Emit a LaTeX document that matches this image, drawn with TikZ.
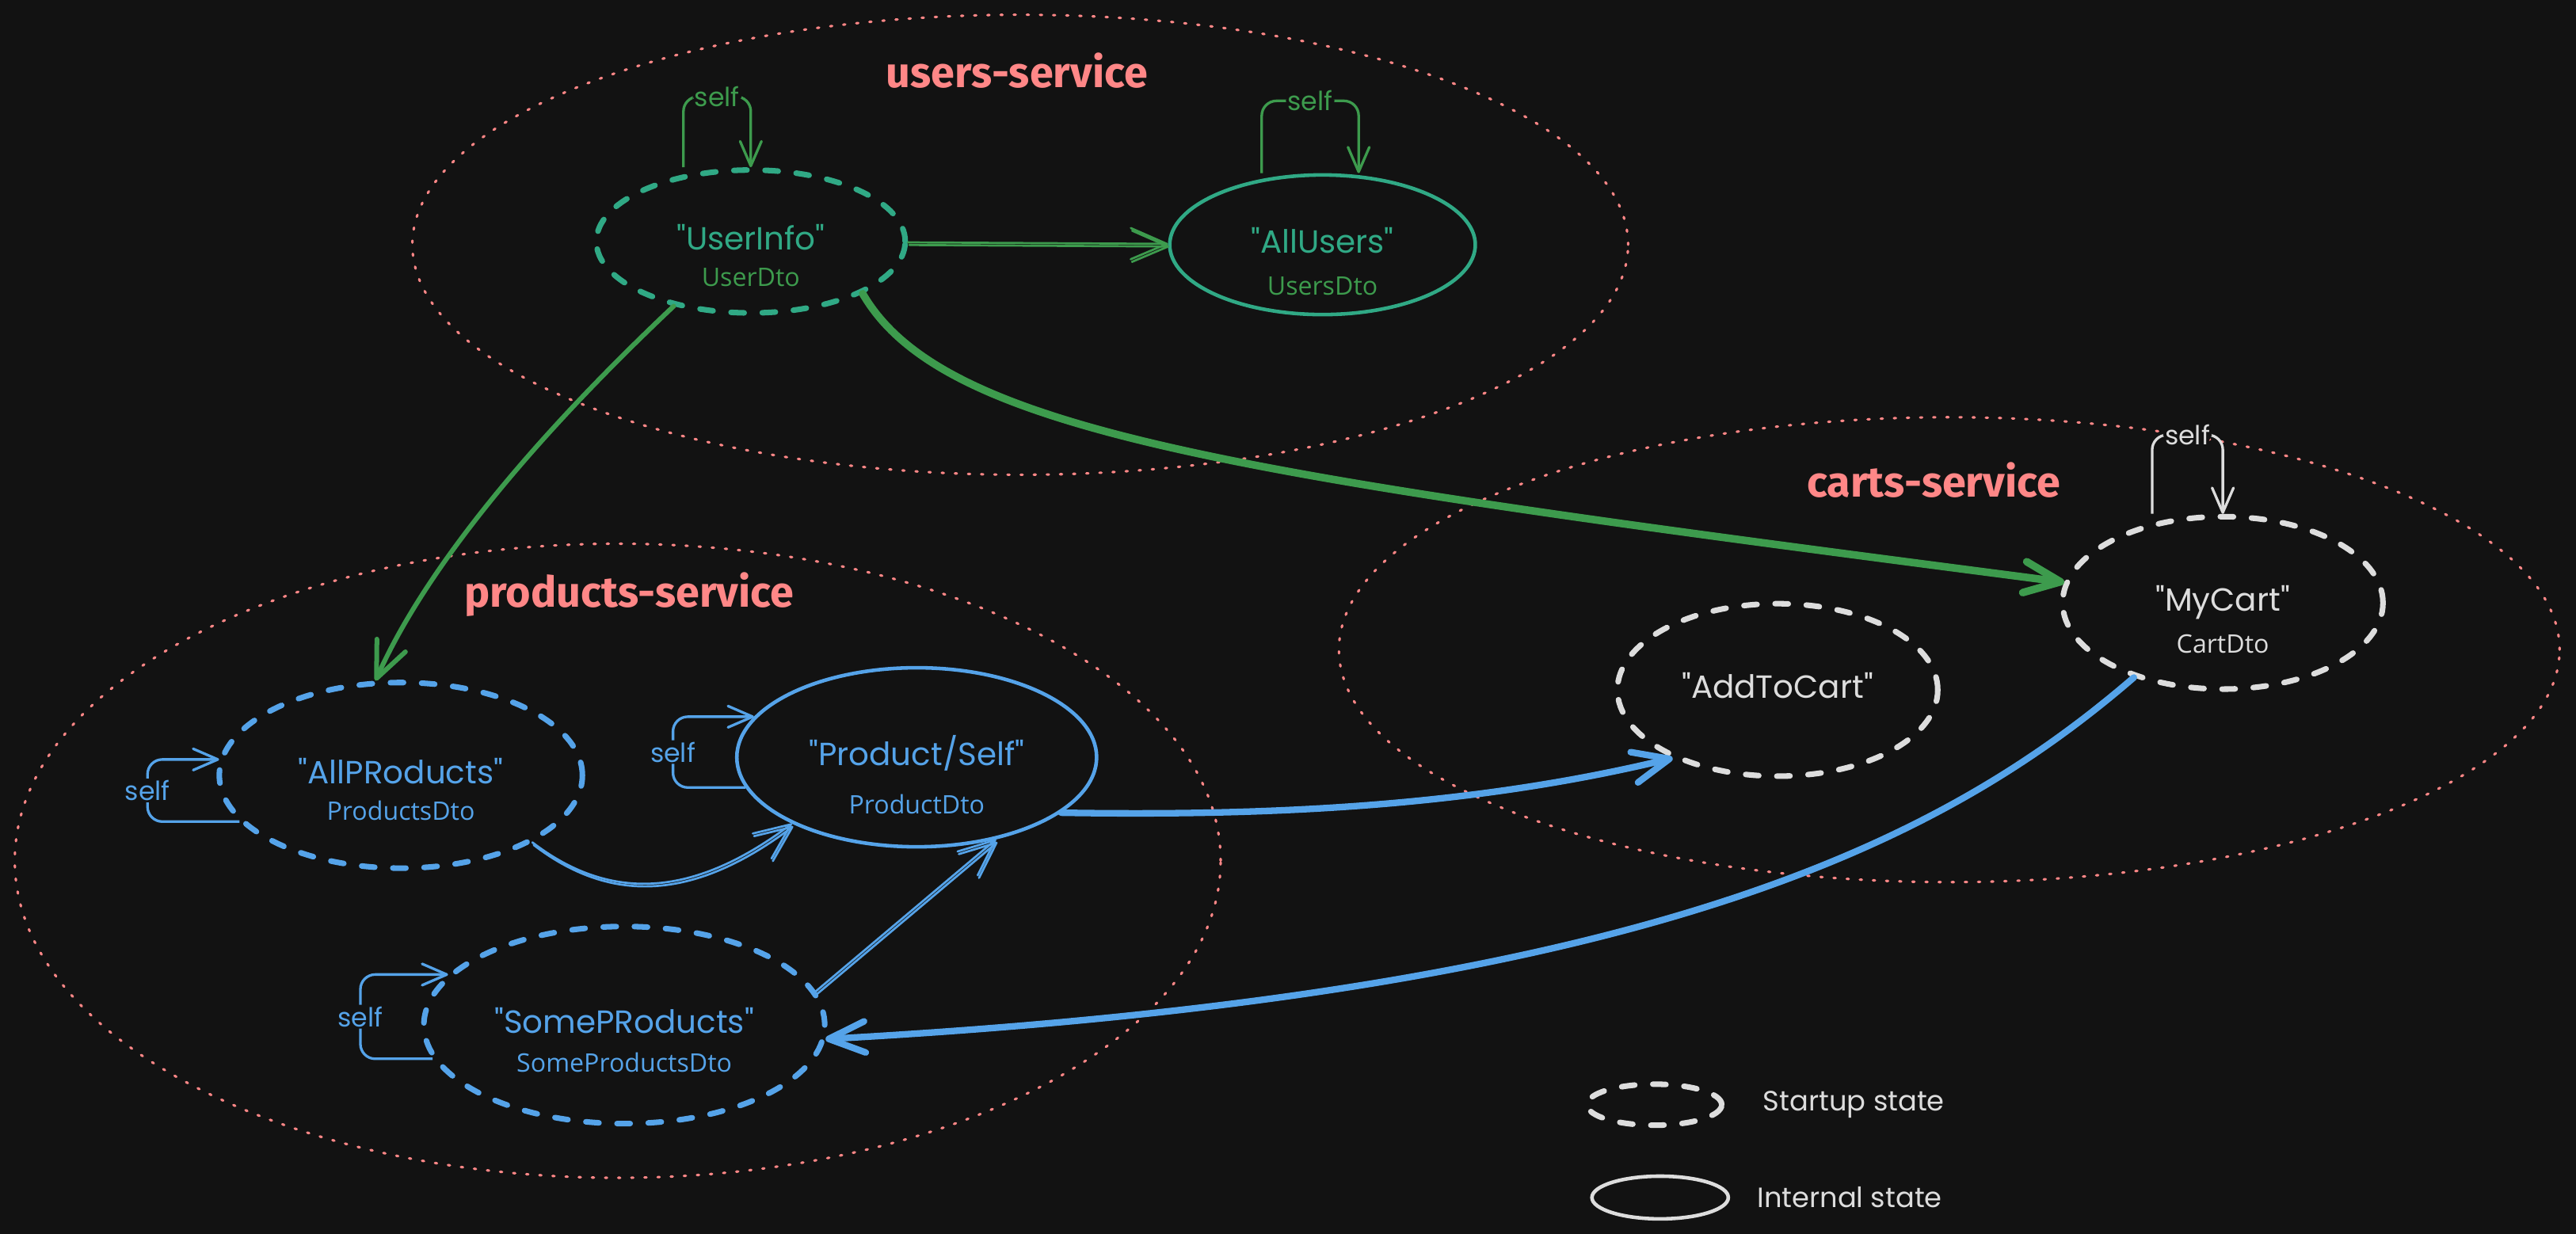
\documentclass[tikz,border=0pt]{standalone}
\usepackage{fontspec}
\setmainfont{Poppins}[Ligatures=TeXOff]
\newfontfamily\dtofont{Open Sans}
\newfontfamily\grpfont{Fira Sans}
\usetikzlibrary{shapes.geometric,arrows.meta,positioning}
\definecolor{bgcol}{HTML}{121212}
\definecolor{grpred}{HTML}{FF8787}
\definecolor{usrteal}{HTML}{30A985}
\definecolor{usrgreen}{HTML}{3D9B4D}
\definecolor{prodblue}{HTML}{55A3E9}
\definecolor{cartgray}{HTML}{DDDDDD}
\begin{document}
\begin{tikzpicture}[x=1pt,y=1pt,
	state/.style={ellipse, draw, inner sep=0pt, line width=2.2pt},
	startup/.style={state, line width=3.4pt, line cap=round, dash pattern=on 8pt off 11pt},
	title/.style={font=\fontsize{19.5}{19.5}\selectfont, inner sep=0pt, text height=14pt, text depth=4pt},
	sub/.style={font=\dtofont\fontsize{15.5}{15.5}\selectfont, inner sep=0pt, text height=11pt, text depth=3pt},
	grp/.style={draw=grpred, line width=1.5pt, line cap=round, dash pattern=on 1.2pt off 6.8pt},
	grplabel/.style={text=grpred, font=\grpfont\bfseries\fontsize{26}{26}\selectfont},
	flow/.style={-{Straight Barb[length=22pt,width=19pt,round]}, line cap=round, line join=round},
	thinflow/.style={flow, line width=1.3pt, postaction={draw, transform canvas={shift={(0.8pt,-1.6pt)}}}},
	selfloop/.style={-{Straight Barb[length=15pt,width=13pt,round]}, line width=1.6pt, rounded corners=9pt},
	selflabel/.style={fill=bgcol, inner sep=1pt, font=\fontsize{16}{16}\selectfont}]
	\useasboundingbox (0,0) rectangle (1568,-751.2);
	\fill[bgcol] (0,0) rectangle (1568,-751.2);

	\draw[grp] (621,-149) ellipse [x radius=370, y radius=140];
	\draw[grp] (376,-524) ellipse [x radius=367, y radius=193];
	\draw[grp] (1186.5,-395.5) ellipse [x radius=371.5, y radius=141.5];
	\node[grplabel] (userslbl) at (619,-43) {users-service};
	\node[grplabel] (productslbl) at (383,-362) {products-service};
	\node[grplabel] (cartslbl) at (1177,-292) {carts-service};

	\node[startup, draw=usrteal, minimum width=188pt, minimum height=87pt] (userinfo) at (457,-147) {};
	\node[state, draw=usrteal, minimum width=186pt, minimum height=85pt] (allusers) at (805,-149) {};
	\node[startup, draw=cartgray, minimum width=195pt, minimum height=105pt] (mycart) at (1353,-367) {};
	\node[startup, draw=cartgray, minimum width=195pt, minimum height=105pt] (addtocart) at (1082,-420) {};
	\node[startup, draw=prodblue, minimum width=221pt, minimum height=113pt] (allproducts) at (244,-472) {};
	\node[state, draw=prodblue, minimum width=219pt, minimum height=109pt] (product) at (558,-461) {};
	\node[startup, draw=prodblue, minimum width=244pt, minimum height=120pt] (someproducts) at (380,-624) {};

	\node[title, text=usrteal] (userinfoName) at (userinfo) {"UserInfo"};
	\node[sub, text=usrgreen, below=7pt of userinfoName] (userinfoDto) {UserDto};
	\node[title, text=usrteal] (allusersName) at (allusers) {"AllUsers"};
	\node[sub, text=usrgreen, below=10pt of allusersName] (allusersDto) {UsersDto};
	\node[title, text=cartgray] (mycartName) at (mycart) {"MyCart"};
	\node[sub, text=cartgray, below=10pt of mycartName] (mycartDto) {CartDto};
	\node[title, text=cartgray] (addtocartName) at (addtocart) {"AddToCart"};
	\node[title, text=prodblue] (allproductsName) at (allproducts) {"AllPRoducts"};
	\node[sub, text=prodblue, below=7pt of allproductsName] (allproductsDto) {ProductsDto};
	\node[title, text=prodblue] (productName) at (product) {"Product/Self"};
	\node[sub, text=prodblue, below=14pt of productName] (productDto) {ProductDto};
	\node[title, text=prodblue] (someproductsName) at (someproducts) {"SomePRoducts"};
	\node[sub, text=prodblue, below=8pt of someproductsName] (someproductsDto) {SomeProductsDto};

	\foreach \n/\l/\r/\h/\c in {userinfo/-41/0/43/usrgreen, allusers/-37/22/44/usrgreen, mycart/-43/0/48/cartgray}{
	\draw[selfloop, \c] ([xshift=\l pt]\n.north) -- ++(0,\h) -| ([xshift=\r pt]\n.north) node[selflabel, text=\c, pos=0.25] {self};
	}
	\foreach \n/\a/\b/\w in {allproducts/196/175/56, product/190/166/44, someproducts/190/164/44}{
	\draw[selfloop, prodblue] (\n.\a) -- ++(-\w,0) |- (\n.\b) node[selflabel, text=prodblue, pos=0.25] {self};
	}

	\draw[thinflow, usrgreen] (userinfo) -- (allusers);
	\draw[flow, usrgreen, line width=4.6pt] (userinfo.-25) .. controls (575,-265) and (760,-290) .. (mycart);
	\draw[flow, usrgreen, line width=2.9pt] (userinfo.220) .. controls (311,-280) and (255,-355) .. (allproducts.105);
	\draw[thinflow, prodblue] (allproducts.-27) .. controls (370,-548) and (420,-548) .. (product.208);
	\draw[thinflow, prodblue] (someproducts.10) -- (product.-46);
	\draw[flow, prodblue, line width=4pt] (product.-21) .. controls (780,-497) and (900,-490) .. (addtocart.213);
	\draw[flow, prodblue, line width=4pt] (mycart.220) .. controls (1180,-515) and (1000,-605) .. (someproducts.-4);

	\node[startup, draw=cartgray, minimum width=82pt, minimum height=25pt] (legendStartup) at (1007,-672.5) {};
	\node[state, draw=cartgray, minimum width=83pt, minimum height=26pt] (legendInternal) at (1010.5,-729) {};
	\node[text=cartgray, font=\fontsize{17}{17}\selectfont, right=20pt of legendStartup] (startupTxt) {Startup state};
	\node[text=cartgray, font=\fontsize{17}{17}\selectfont, right=13pt of legendInternal] (internalTxt) {Internal state};
\end{tikzpicture}
\end{document}
